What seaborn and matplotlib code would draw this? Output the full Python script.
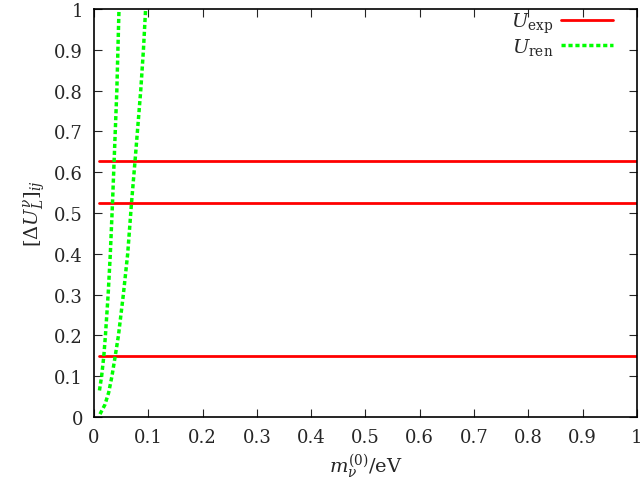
import numpy as np
import pandas as pd
import matplotlib
matplotlib.use("Agg")
import matplotlib.pyplot as plt
import seaborn as sns

# niveles horizontales de U_exp
niveles_exp = [0.149, 0.524, 0.627]
x_exp = [0.01, 1.0]

# curvas U_ren
ren_a_x = [0.010, 0.014, 0.018, 0.021, 0.026, 0.030, 0.034, 0.037, 0.042, 0.044, 0.046]
ren_a_y = [0.065, 0.100, 0.149, 0.200, 0.300, 0.400, 0.524, 0.627, 0.800, 0.900, 1.000]
ren_b_x = [0.011, 0.020, 0.027, 0.033, 0.039, 0.045, 0.054, 0.062, 0.069, 0.0755, 0.086, 0.091, 0.095]
ren_b_y = [0.007, 0.030, 0.060, 0.100, 0.149, 0.200, 0.300, 0.400, 0.524, 0.627, 0.800, 0.900, 1.000]

ticks = [0, 0.1, 0.2, 0.3, 0.4, 0.5, 0.6, 0.7, 0.8, 0.9, 1]
tick_labels = ["0", "0.1", "0.2", "0.3", "0.4", "0.5", "0.6", "0.7", "0.8", "0.9", "1"]

sns.set_style("ticks")
plt.rcParams['font.family'] = ['DejaVu Serif']
plt.rcParams['mathtext.fontset'] = 'dejavuserif'

fig = plt.figure(figsize=(6.44, 4.81), dpi=100)
ax = fig.add_axes([0.146, 0.131, 0.843, 0.848])

for i, v in enumerate(niveles_exp):
    df = pd.DataFrame({"x": x_exp, "y": [v, v]})
    sns.lineplot(x="x", y="y", data=df, ax=ax, color="#ff0000", lw=2,
                 label=r"$U_{\mathrm{exp}}$" if i == 0 else None)

df_a = pd.DataFrame({"x": ren_a_x, "y": ren_a_y})
df_b = pd.DataFrame({"x": ren_b_x, "y": ren_b_y})
sns.lineplot(x="x", y="y", data=df_a, ax=ax, color="#00ff00", lw=2.5,
             linestyle=(0, (1.2, 0.8)), sort=False, estimator=None,
             label=r"$U_{\mathrm{ren}}$")
sns.lineplot(x="x", y="y", data=df_b, ax=ax, color="#00ff00", lw=2.5,
             linestyle=(0, (1.2, 0.8)), sort=False, estimator=None)

ax.set_xlim(0, 1)
ax.set_ylim(0, 1)
ax.set_xticks(ticks)
ax.set_xticklabels(tick_labels)
ax.set_yticks(ticks)
ax.set_yticklabels(tick_labels)
ax.tick_params(direction="in", top=True, right=True, length=6, labelsize=13, pad=8)
for s in ax.spines.values():
    s.set_linewidth(1.2)
    s.set_color("black")

ax.set_xlabel(r"$m_{\nu}^{(0)}/\mathrm{eV}$", fontsize=14)
ax.set_ylabel(r"$[\Delta U_L^{\nu}]_{ij}$", fontsize=14)

ax.legend(loc="upper right", bbox_to_anchor=(0.96, 1.0), frameon=False,
          markerfirst=False, fontsize=14, handlelength=2.7, handletextpad=0.4,
          borderaxespad=0.0, borderpad=0.1, labelspacing=0.05)

fig.savefig("out.png", dpi=100)
